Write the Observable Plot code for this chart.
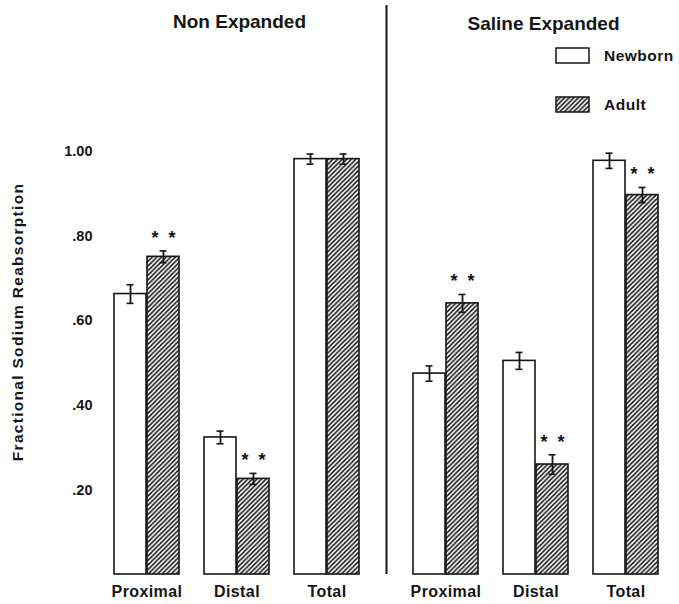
<!DOCTYPE html>
<html>
<head>
<meta charset="utf-8">
<script src="https://cdn.jsdelivr.net/npm/d3@7"></script>
<script src="https://cdn.jsdelivr.net/npm/@observablehq/plot@0.6"></script>
<style>
  html, body { margin: 0; padding: 0; background: #fff; }
  #chart { position: relative; width: 679px; height: 604px; }
  #chart svg { font-family: "Liberation Sans", Arial, Helvetica, sans-serif; font-weight: bold; }
  #chart svg g[aria-label^="x-axis"] text { font-size: 16px; letter-spacing: 0.4px; }
  #chart svg g[aria-label^="y-axis"] text { font-size: 14.5px; }
</style>
</head>
<body>
<div id="chart"></div>
<script>
// ---- data ----
const conditions = ["Non Expanded", "Saline Expanded"];
const categories = ["Proximal", "Distal", "Total"];
const groups = ["Newborn", "Adult"];

const nonNewborn   = [0.663, 0.324, 0.982];
const nonAdult     = [0.751, 0.226, 0.982];
const salNewborn   = [0.475, 0.505, 0.978];
const salAdult     = [0.641, 0.260, 0.897];

const nonNewbornSE = [0.022, 0.015, 0.012];
const nonAdultSE   = [0.014, 0.013, 0.012];
const salNewbornSE = [0.018, 0.020, 0.018];
const salAdultSE   = [0.021, 0.023, 0.018];

const nonAdultSig  = [true, true, false];
const salAdultSig  = [true, true, true];

const yTicks = [0.2, 0.4, 0.6, 0.8, 1.0];
const yLabel = "Fractional Sodium Reabsorption";

// ---- table ----
const table = {
  "Non Expanded":    {Newborn: [nonNewborn, nonNewbornSE, [false,false,false]], Adult: [nonAdult, nonAdultSE, nonAdultSig]},
  "Saline Expanded": {Newborn: [salNewborn, salNewbornSE, [false,false,false]], Adult: [salAdult, salAdultSE, salAdultSig]}
};
const rows = conditions.flatMap(c => categories.flatMap((cat, k) => groups.map(g => {
  const [v, se, sig] = table[c][g];
  return {cond: c, cat, group: g, value: v[k], lo: v[k] - se[k], hi: v[k] + se[k], sig: sig[k]};
})));
const newborn = rows.filter(d => d.group === "Newborn");
const adult = rows.filter(d => d.group === "Adult");
const stars = adult.filter(d => d.sig);

// ---- style / layout ----
const INK = "#151515";
const BAR = 33;          // width of one bar in px (half of the category band)
const HALF = BAR / 2;
const FONT = "Liberation Sans, Arial, Helvetica, sans-serif";

const chart = Plot.plot({
  width: 679,
  height: 604,
  marginLeft: 113,
  marginRight: 19,
  marginTop: 151,
  marginBottom: 30,
  style: {fontFamily: FONT, fontSize: "14px", color: INK, background: "white", overflow: "visible"},
  fx: {domain: conditions, paddingInner: 0.171, paddingOuter: 0, axis: null, label: null},
  x: {domain: categories, paddingInner: 0.2747, paddingOuter: 0, tickSize: 0, tickPadding: 11, label: null},
  y: {
    domain: [0, 1],
    ticks: yTicks,
    tickFormat: d => d === 1 ? "1.00" : d3.format(".2f")(d).replace(/^0/, ""),
    tickSize: 0,
    tickPadding: 21,
    label: null
  },
  marks: [
    Plot.barY(newborn, {fx: "cond", x: "cat", y: "value", insetRight: BAR, fill: "white", stroke: INK, strokeWidth: 1.6}),
    Plot.barY(adult, {fx: "cond", x: "cat", y: "value", insetLeft: BAR, fill: "url(#hatch)", stroke: INK, strokeWidth: 1.6}),
    Plot.ruleX(newborn, {fx: "cond", x: "cat", y1: "lo", y2: "hi", dx: -HALF, stroke: INK, strokeWidth: 1.8}),
    Plot.ruleX(adult, {fx: "cond", x: "cat", y1: "lo", y2: "hi", dx: HALF, stroke: INK, strokeWidth: 1.8}),
    Plot.tickY(newborn, {fx: "cond", x: "cat", y: "hi", dx: -HALF, insetLeft: 29, insetRight: 29, stroke: INK, strokeWidth: 1.6}),
    Plot.tickY(newborn, {fx: "cond", x: "cat", y: "lo", dx: -HALF, insetLeft: 29, insetRight: 29, stroke: INK, strokeWidth: 1.6}),
    Plot.tickY(adult, {fx: "cond", x: "cat", y: "hi", dx: HALF, insetLeft: 29, insetRight: 29, stroke: INK, strokeWidth: 1.6}),
    Plot.tickY(adult, {fx: "cond", x: "cat", y: "lo", dx: HALF, insetLeft: 29, insetRight: 29, stroke: INK, strokeWidth: 1.6}),
    Plot.text(stars, {fx: "cond", x: "cat", y: "hi", text: () => "*", dx: HALF - 8.5, dy: -13, fontSize: 18, fontWeight: "bold", fill: INK}),
    Plot.text(stars, {fx: "cond", x: "cat", y: "hi", text: () => "*", dx: HALF + 8.5, dy: -13, fontSize: 18, fontWeight: "bold", fill: INK}),
    Plot.text([conditions[0]], {fx: d => d, text: d => d, frameAnchor: "top", lineAnchor: "middle", dy: -130, dx: 2, fontSize: 19, fontWeight: "bold", fill: INK, style: "letter-spacing:0.9px"}),
    Plot.text([conditions[1]], {fx: d => d, text: d => d, frameAnchor: "top", lineAnchor: "middle", dy: -128, dx: 7, fontSize: 19, fontWeight: "bold", fill: INK, style: "letter-spacing:0.4px"})
  ]
});

document.getElementById("chart").appendChild(chart);

// hatch pattern for the Adult bars
const svg = d3.select(chart.tagName.toLowerCase() === "svg" ? chart : chart.querySelector("svg"));
const defs = svg.insert("defs", ":first-child");
const pat = defs.append("pattern")
  .attr("id", "hatch").attr("patternUnits", "userSpaceOnUse")
  .attr("width", 4.6).attr("height", 4.6);
pat.append("rect").attr("width", 4.6).attr("height", 4.6).attr("fill", "white");
pat.append("path")
  .attr("d", "M-1.15,1.15 l2.3,-2.3 M0,4.6 l4.6,-4.6 M3.45,5.75 l2.3,-2.3")
  .attr("stroke", INK).attr("stroke-width", 1.5);

// divider between the two panels
const fxS = chart.scale("fx");
const yS = chart.scale("y");
const divX = fxS.apply(conditions[1]) - (fxS.step - fxS.bandwidth) / 2;
svg.append("line")
  .attr("x1", divX).attr("x2", divX)
  .attr("y1", 5).attr("y2", yS.apply(0))
  .attr("stroke", INK).attr("stroke-width", 2);

// y-axis title
svg.append("text")
  .attr("transform", "translate(18,322) rotate(-90)")
  .attr("text-anchor", "middle").attr("dy", "0.35em")
  .attr("font-family", FONT).attr("font-weight", "bold").attr("font-size", 15.5)
  .attr("fill", INK).attr("style", "letter-spacing:1.3px")
  .text(yLabel);

// legend (Newborn / Adult)
const lg = svg.append("g").attr("font-family", FONT).attr("font-weight", "bold").attr("font-size", 15.5).attr("text-anchor", "start");
const legendItems = [
  {label: groups[0], fill: "white", y: 48},
  {label: groups[1], fill: "url(#hatch)", y: 97}
];
legendItems.forEach(it => {
  lg.append("rect").attr("x", 556).attr("y", it.y).attr("width", 33).attr("height", 15)
    .attr("fill", it.fill).attr("stroke", INK).attr("stroke-width", 1.5);
  lg.append("text").attr("x", 604).attr("y", it.y + 7.5).attr("dy", "0.35em")
    .attr("text-anchor", "start")
    .attr("fill", INK).attr("style", "letter-spacing:0.5px").text(it.label);
});
</script>
</body>
</html>
